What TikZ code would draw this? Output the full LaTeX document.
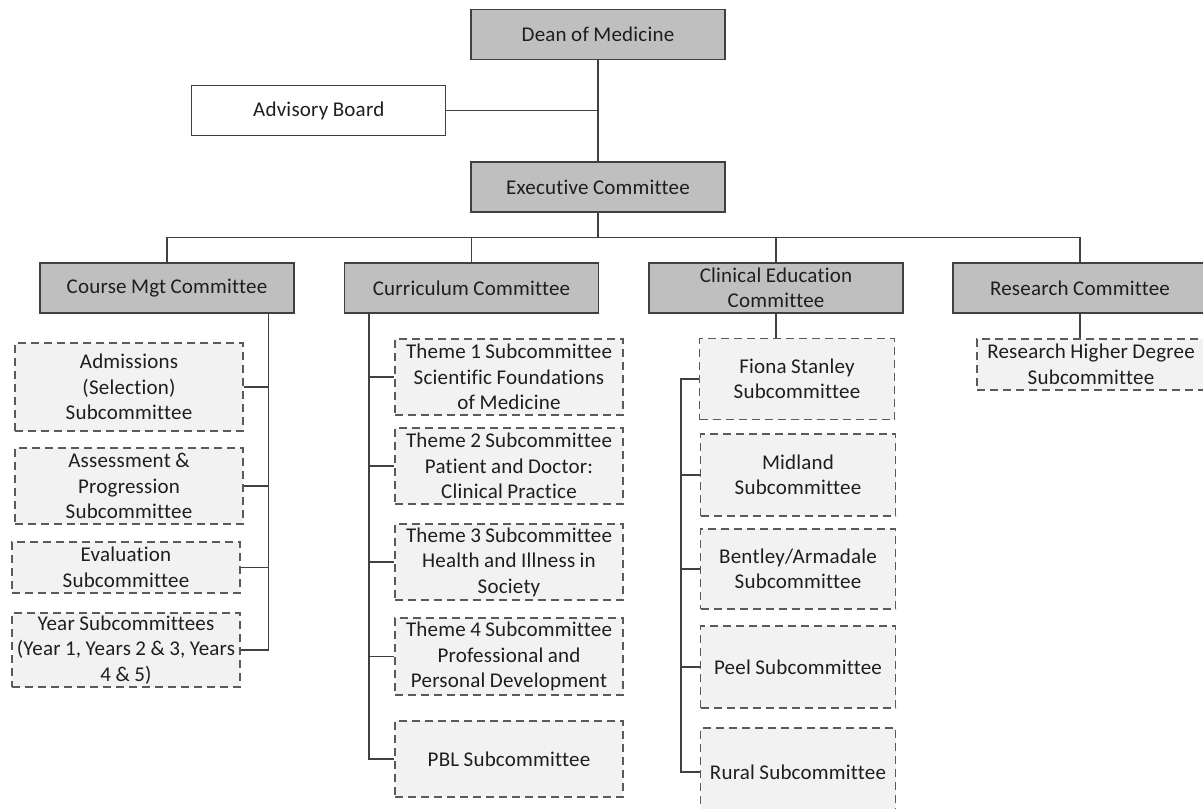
\documentclass[tikz,border=0pt]{standalone}
\usepackage{fontspec}
\setmainfont{Carlito}[Ligatures=NoCommon, LetterSpace=1.0, WordSpace=0.9]
\usetikzlibrary{calc}
\definecolor{boxgray}{HTML}{BFBFBF}
\definecolor{subfill}{HTML}{F2F2F2}
\definecolor{linecol}{HTML}{404040}
\definecolor{dashcol}{HTML}{5A5A5A}
\definecolor{txtcol}{HTML}{1E1E1E}
\begin{document}
\begin{tikzpicture}[x=1pt,y=-1pt,
  font=\fontsize{21}{25.5}\selectfont, text=txtcol,
  mainbox/.style={draw=linecol, line width=1.2pt, fill=boxgray, minimum width=254pt, minimum height=50pt, inner sep=0pt, align=center},
  advbox/.style={mainbox, fill=white},
  subbox/.style={draw=dashcol, dash pattern=on 8pt off 5pt, line width=1.2pt, fill=subfill, inner sep=0pt, align=center},
  wide/.style={minimum width=228pt},
  narrow/.style={minimum width=195pt},
  conn/.style={draw=linecol, line width=1.2pt}]
\useasboundingbox (0,0) rectangle (1203,809);
\clip (0,0) rectangle (1203,809);
\fill[white] (0,0) rectangle (1203,809);

% main boxes
\node[mainbox] (dean) at (598,34.5) {Dean of Medicine};
\node[advbox] (adv) at (318.75,110.5) {Advisory Board};
\node[mainbox] (exec) at (598,187) {Executive Committee};
\node[mainbox] (cm) at (167,288) {Course Mgt Committee};
\node[mainbox] (cu) at (471.5,288) {Curriculum Committee};
\node[mainbox] (cl) at (776,288) {Clinical Education\\Committee};
\node[mainbox] (res) at (1080,288) {Research Committee};

% course mgt subcommittees
\node[subbox, wide, minimum height=88pt] (adm) at (129,387) {Admissions\\(Selection)\\Subcommittee};
\node[subbox, wide, minimum height=76pt] (ass) at (129,486) {Assessment \&\\Progression\\Subcommittee};
\node[subbox, wide, minimum height=51pt] (eva) at (126,567.5) {Evaluation\\Subcommittee};
\node[subbox, wide, minimum height=74pt] (year) at (126,650) {Year Subcommittees\\(Year 1, Years 2 \& 3, Years\\4 \& 5)};

% curriculum subcommittees
\node[subbox, wide, minimum height=76pt] (t1) at (509,377) {Theme 1 Subcommittee\\Scientific Foundations\\of Medicine};
\node[subbox, wide, minimum height=76pt] (t2) at (509,466) {Theme 2 Subcommittee\\Patient and Doctor:\\Clinical Practice};
\node[subbox, wide, minimum height=76pt] (t3) at (509,562) {Theme 3 Subcommittee\\Health and Illness in\\Society};
\node[subbox, wide, minimum height=77pt] (t4) at (509,656.5) {Theme 4 Subcommittee\\Professional and\\Personal Development};
\node[subbox, wide, minimum height=76pt] (pbl) at (509,759) {PBL Subcommittee};

% clinical subcommittees
\node[subbox, narrow, minimum height=81pt] (fio) at (797,379) {Fiona Stanley\\Subcommittee};
\node[subbox, narrow, minimum height=82pt] (mid) at (798,475) {Midland\\Subcommittee};
\node[subbox, narrow, minimum height=80pt] (ben) at (798,569) {Bentley/Armadale\\Subcommittee};
\node[subbox, narrow, minimum height=82pt] (peel) at (798,667) {Peel Subcommittee};
\node[subbox, narrow, minimum height=88pt] (rur) at (798,772) {Rural Subcommittee};

% research subcommittee
\node[subbox, wide, minimum height=51pt] (rhd) at (1091,364.5) {Research Higher Degree\\Subcommittee};

% top connectors
\draw[conn] (dean.south) -- (exec.north);
\draw[conn] (adv.east) -- (adv.east -| dean.south);
\coordinate (bus) at ($(exec.south)+(0,25)$);
\draw[conn] (exec.south) -- (bus);
\draw[conn] (cm.north) |- (bus);
\draw[conn] (cu.north) |- (bus);
\draw[conn] (cl.north) |- (bus);
\draw[conn] (res.north) |- (bus);

% course mgt spine
\coordinate (cmsp) at ($(cm.south east)+(-26,0)$);
\draw[conn] (cmsp) |- (year.east);
\draw[conn] (cmsp |- adm.east) -- (adm.east);
\draw[conn] (cmsp |- ass.east) -- (ass.east);
\draw[conn] (cmsp |- eva.east) -- (eva.east);

% curriculum spine
\coordinate (cusp) at ($(cu.south west)+(25,0)$);
\draw[conn] (cusp) |- (pbl.west);
\draw[conn] (cusp |- t1.west) -- (t1.west);
\draw[conn] (cusp |- t2.west) -- (t2.west);
\draw[conn] (cusp |- t3.west) -- (t3.west);
\draw[conn] (cusp |- t4.west) -- (t4.west);

% clinical spine
\draw[conn] (cl.south) -- (cl.south |- fio.north);
\coordinate (clsp) at ($(fio.west)+(-18,0)$);
\draw[conn] (fio.west) -- (clsp) |- (rur.west);
\draw[conn] (clsp |- mid.west) -- (mid.west);
\draw[conn] (clsp |- ben.west) -- (ben.west);
\draw[conn] (clsp |- peel.west) -- (peel.west);

% research
\draw[conn] (res.south) -- (res.south |- rhd.north);
\end{tikzpicture}
\end{document}
